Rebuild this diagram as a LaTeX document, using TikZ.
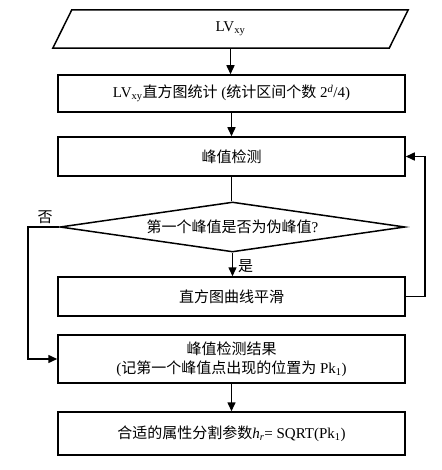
\documentclass[tikz,border=0pt]{standalone}
\usepackage{fontspec}
\setmainfont{Liberation Serif}
\newfontfamily\cjk{Noto Sans CJK SC}
\newcommand{\zh}[1]{{\cjk #1}}
\usetikzlibrary{arrows.meta,shapes.geometric,calc}
\tikzset{
  box/.style={draw, line width=1.5pt, minimum width=347pt, inner sep=0pt, align=center},
  conn/.style={line width=1.5pt},
  arr/.style={line width=1.5pt, -{Triangle[length=9pt,width=8pt]}},
  lbl/.style={inner sep=0pt}
}
\begin{document}
\begin{tikzpicture}[x=1pt,y=-1pt,font=\fontsize{15}{19}\selectfont]
\useasboundingbox (0,0) rectangle (441,470);
% input parallelogram
\node[minimum width=317pt, minimum height=38pt, inner sep=0pt] (in) at (230.5,29) {LV\textsubscript{xy}};
\draw[line width=1.5pt] (in.north west) -- ($(in.north east)+(19,0)$) -- (in.south east) -- ($(in.south west)+(-19,0)$) -- cycle;
\node[box, minimum height=37pt] (b2) at (231.5,93.5) {LV\textsubscript{xy}\zh{直方图统计} (\zh{统计区间个数} 2\textsuperscript{\textit{d}}/4)};
\node[box, minimum height=39pt] (b3) at (231.5,156.5) {\zh{峰值检测}};
\node[draw, line width=1.5pt, shape=diamond, aspect=6.9, minimum width=345pt, minimum height=50pt, inner sep=0pt] (d) at (232.5,227) {\zh{第一个峰值是否为伪峰值}?};
\node[box, minimum height=39pt] (b4) at (231.5,296.5) {\zh{直方图曲线平滑}};
\node[box, minimum height=48pt] (b5) at (231.5,359) {\zh{峰值检测结果}\\(\zh{记第一个峰值点出现的位置为} Pk\textsubscript{1})};
\node[box, minimum height=43pt] (b6) at (231.5,433.5) {\zh{合适的属性分割参数}\textit{h\textsubscript{r}}= SQRT(Pk\textsubscript{1})};
% connectors
\draw[arr] (in.south) -- (in.south |- b2.north);
\draw[arr] (b2) -- (b3);
\draw[conn] (b3.south) -- (b3.south |- d.north);
\draw[arr] (d.south) -- (d.south |- b4.north);
\node[lbl, anchor=west] (yes) at (238,266) {\zh{是}};
\coordinate (nl) at (28,227);
\draw[arr] (d.west) -- (nl) |- (b5.west);
\node[lbl] (no) at (45,217) {\zh{否}};
\coordinate (lr) at (425,296.5);
\draw[arr] (b4.east) -- (lr) |- (b3.east);
\draw[arr] (b5) -- (b6);
\end{tikzpicture}
\end{document}
